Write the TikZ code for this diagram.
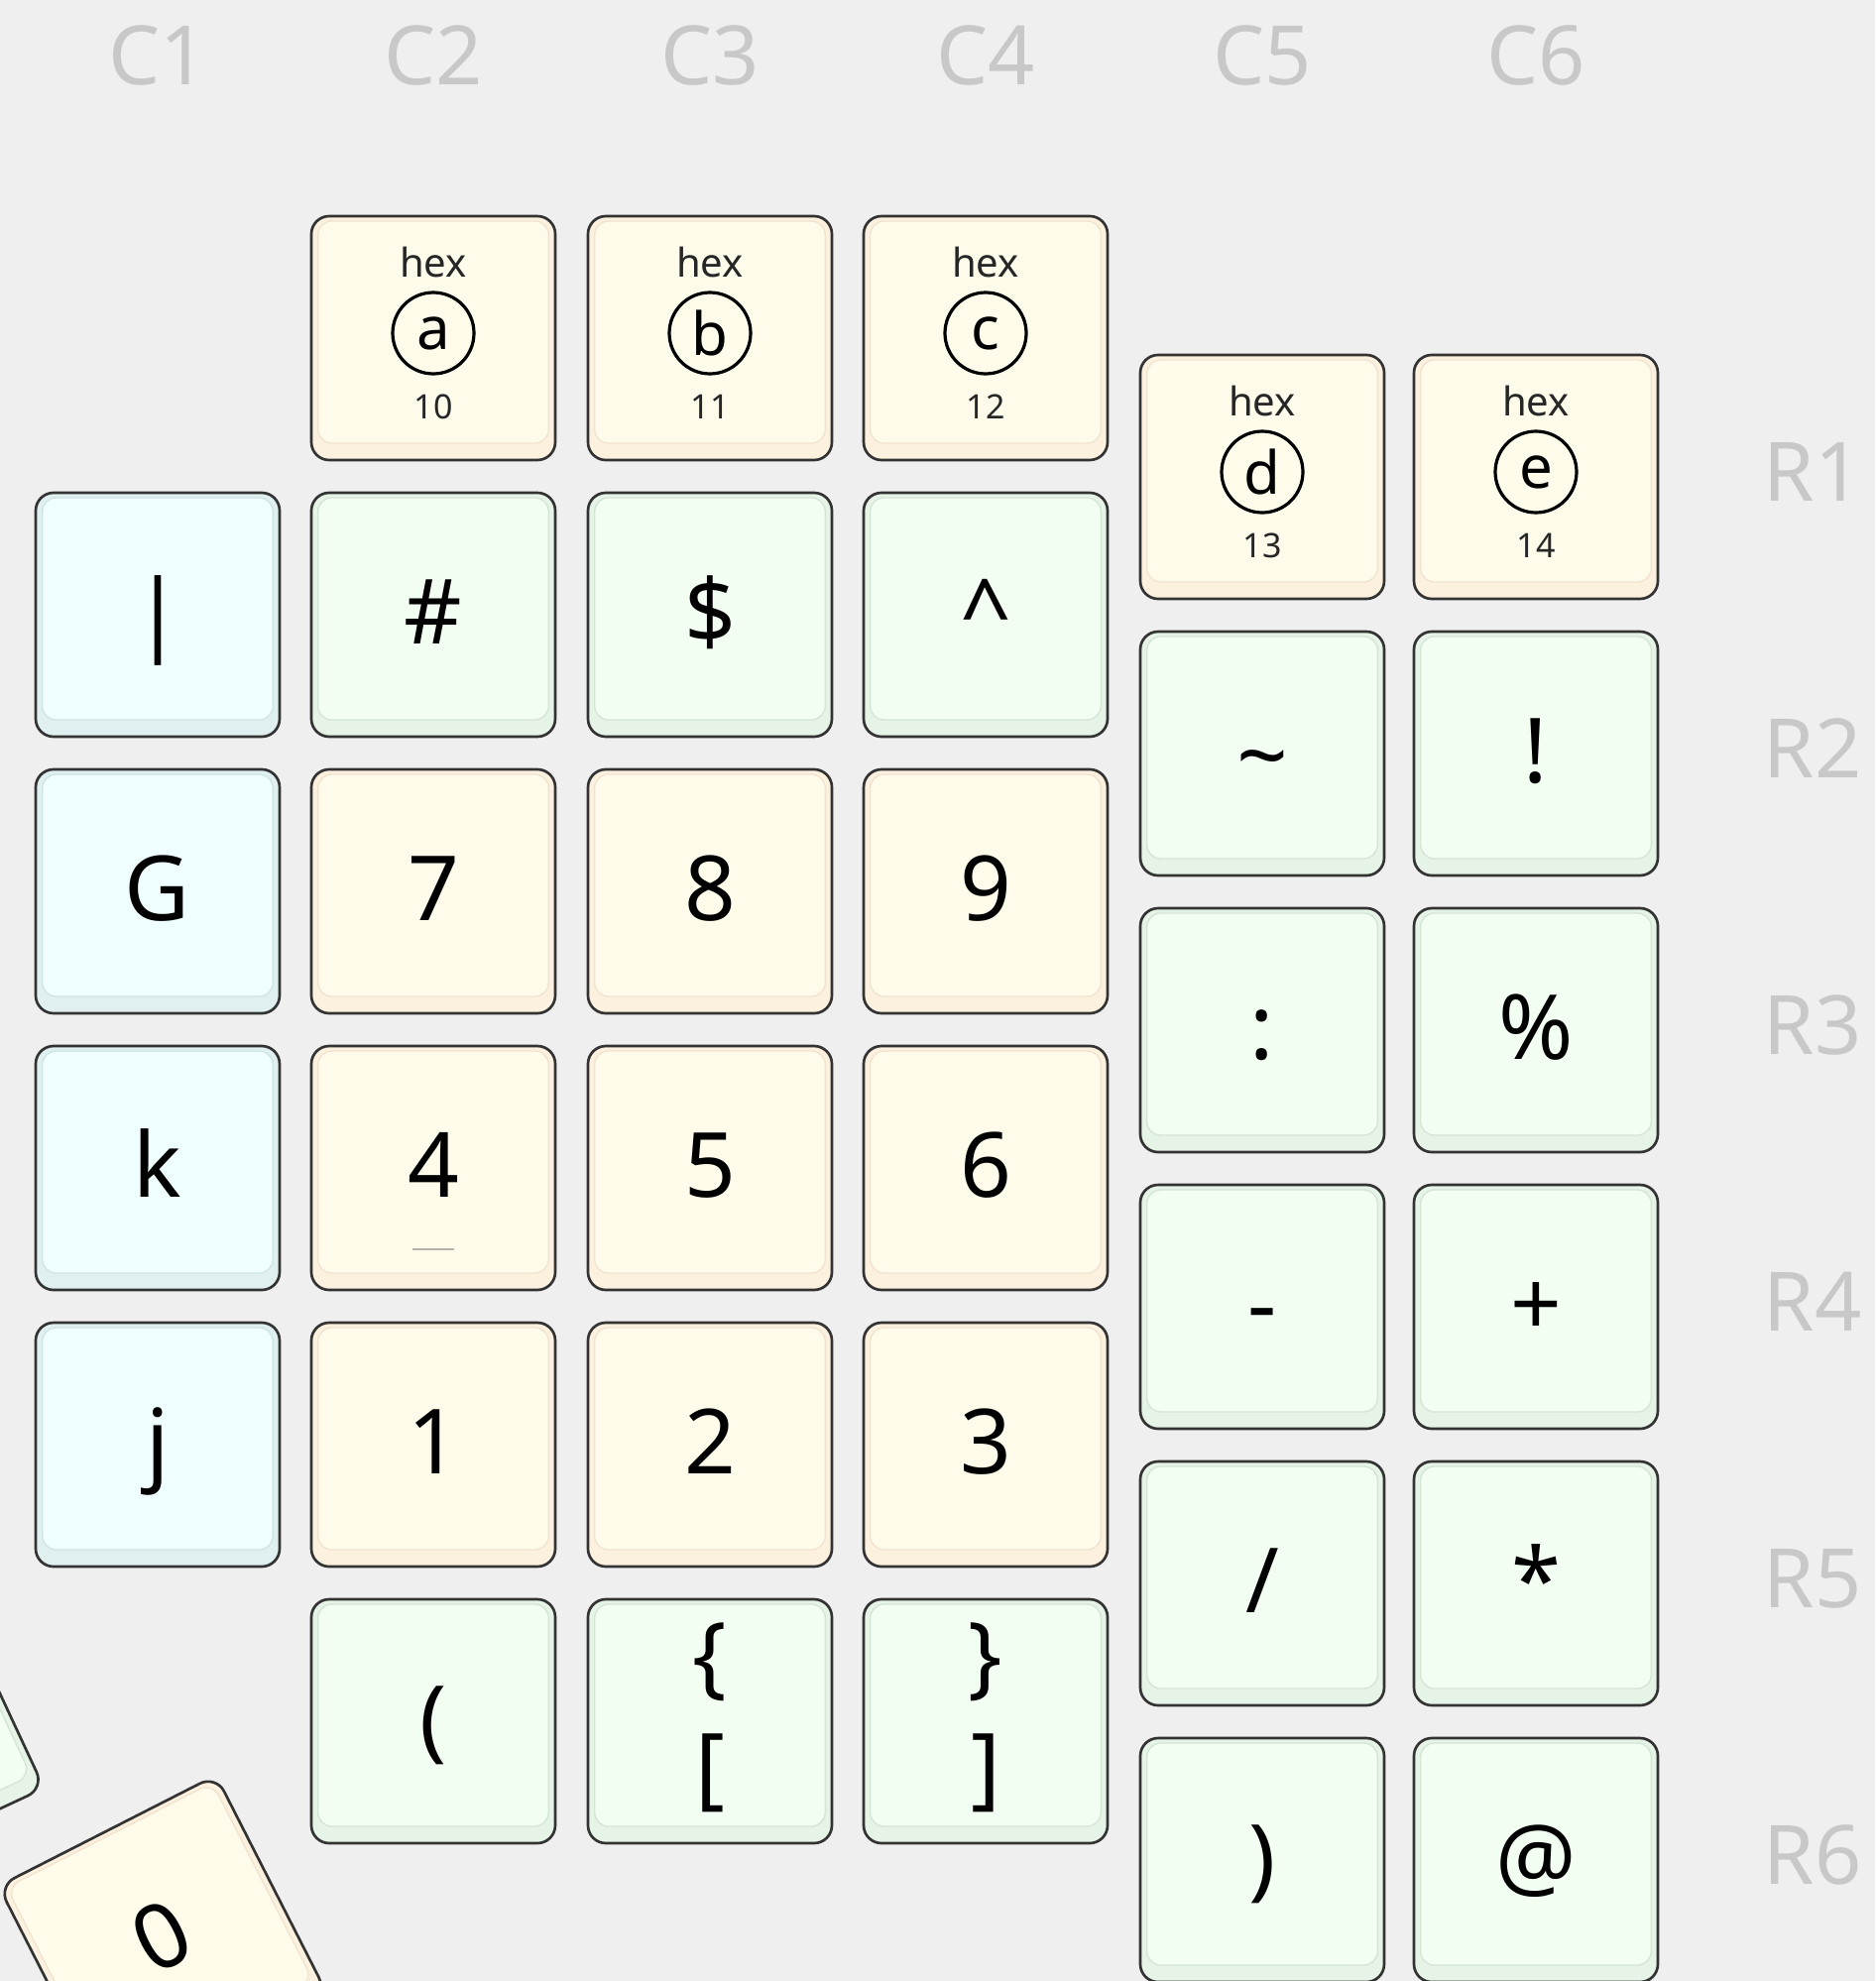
\documentclass[tikz,border=0pt]{standalone}
\usepackage{fontspec}
\setmainfont{Noto Sans}
\usepackage{xcolor}
\usetikzlibrary{calc}

\definecolor{bgcol}{HTML}{EFEFEF}
\definecolor{axisgray}{HTML}{C8C8C8}
\definecolor{keyline}{HTML}{333333}
\definecolor{homegray}{HTML}{B4B4AA}
\definecolor{creamface}{HTML}{FEFBEA}
\definecolor{creamband}{HTML}{FCF0DF}
\definecolor{creamedge}{HTML}{F0E4D0}
\definecolor{mintface}{HTML}{F3FEF3}
\definecolor{mintband}{HTML}{E6F3E7}
\definecolor{mintedge}{HTML}{D4E5D7}
\definecolor{cyanface}{HTML}{EFFEFE}
\definecolor{cyanband}{HTML}{E0F0F0}
\definecolor{cyanedge}{HTML}{D0E4E4}

\tikzset{
  keycap/.style={draw=keyline, line width=2pt, rounded corners=13.5pt, minimum width=184.5pt, minimum height=184.5pt, inner sep=0pt, fill=#1band},
  keyface/.style={draw=#1edge, line width=1pt, rounded corners=10.5pt, minimum width=174.5pt, minimum height=168pt, inner sep=0pt, fill=#1face},
  keylegend/.style={anchor=base, inner sep=0pt, text=black, align=center, font=\fontsize{68}{84}\selectfont},
  hexlabel/.style={anchor=base, inner sep=0pt, text=black!85, font=\fontsize{30}{36}\selectfont},
  hexnum/.style={anchor=base, inner sep=0pt, text=black!85, font=\fontsize{25.5}{30}\selectfont},
  hexcirc/.style={circle, draw=black, line width=2.4pt, minimum size=61.5pt, inner sep=0pt, text=black, font=\fontsize{45}{50}\selectfont},
  axislabel/.style={anchor=base, inner sep=0pt, text=axisgray, font=\fontsize{62}{70}\selectfont},
  homing/.style={draw=homegray, line width=2.2pt}
}

\begin{document}
\begin{tikzpicture}[x=0.75pt,y=0.75pt,yscale=-1,xscale=1]
\useasboundingbox (0,0) rectangle (1891,1998);
\fill[bgcol] (0,0) rectangle (1891,1998);
\clip (0,0) rectangle (1891,1998);

% Column labels
\node[axislabel] (lc1) at (159,86) {C1};
\node[axislabel] (lc2) at (437,86) {C2};
\node[axislabel] (lc3) at (716,86) {C3};
\node[axislabel] (lc4) at (994,86) {C4};
\node[axislabel] (lc5) at (1273,86) {C5};
\node[axislabel] (lc6) at (1549,86) {C6};
% Row labels
\node[axislabel] (lr1) at (1828,505) {R1};
\node[axislabel] (lr2) at (1828,784) {R2};
\node[axislabel] (lr3) at (1828,1063) {R3};
\node[axislabel] (lr4) at (1828,1342) {R4};
\node[axislabel] (lr5) at (1828,1621) {R5};
\node[axislabel] (lr6) at (1828,1900) {R6};

%Column C1
\node[keycap=cyan] (c1r2) at (159,620) {};
\node[keyface=cyan] (c1r2f) at ($(c1r2.center)+(0,-6)$) {};
\node[keylegend] (c1r2t) at ($(c1r2.center)+(0,29)$) {|};
\node[keycap=cyan] (c1r3) at (159,899) {};
\node[keyface=cyan] (c1r3f) at ($(c1r3.center)+(0,-6)$) {};
\node[keylegend] (c1r3t) at ($(c1r3.center)+(0,29)$) {G};
\node[keycap=cyan] (c1r4) at (159,1178) {};
\node[keyface=cyan] (c1r4f) at ($(c1r4.center)+(0,-6)$) {};
\node[keylegend] (c1r4t) at ($(c1r4.center)+(0,29)$) {k};
\node[keycap=cyan] (c1r5) at (159,1457) {};
\node[keyface=cyan] (c1r5f) at ($(c1r5.center)+(0,-6)$) {};
\node[keylegend] (c1r5t) at ($(c1r5.center)+(0,29)$) {j};

%Column C2
\node[keycap=cream] (c2r1) at (437,341) {};
\node[keyface=cream] (c2r1f) at ($(c2r1.center)+(0,-6)$) {};
\node[hexlabel] (c2r1h) at ($(c2r1.center)+(0,-62)$) {hex};
\node[hexcirc] (c2r1c) at ($(c2r1.center)+(0,-5)$) {a};
\node[hexnum] (c2r1n) at ($(c2r1.center)+(0,81)$) {10};
\node[keycap=mint] (c2r2) at (437,620) {};
\node[keyface=mint] (c2r2f) at ($(c2r2.center)+(0,-6)$) {};
\node[keylegend] (c2r2t) at ($(c2r2.center)+(0,29)$) {\#};
\node[keycap=cream] (c2r3) at (437,899) {};
\node[keyface=cream] (c2r3f) at ($(c2r3.center)+(0,-6)$) {};
\node[keylegend] (c2r3t) at ($(c2r3.center)+(0,29)$) {7};
\node[keycap=cream] (c2r4) at (437,1178) {};
\node[keyface=cream] (c2r4f) at ($(c2r4.center)+(0,-6)$) {};
\node[keylegend] (c2r4t) at ($(c2r4.center)+(0,29)$) {4};
\draw[homing] ($(c2r4.center)+(-21,82)$) -- ($(c2r4.center)+(21,82)$);
\node[keycap=cream] (c2r5) at (437,1457) {};
\node[keyface=cream] (c2r5f) at ($(c2r5.center)+(0,-6)$) {};
\node[keylegend] (c2r5t) at ($(c2r5.center)+(0,29)$) {1};
\node[keycap=mint] (c2r6) at (437,1736) {};
\node[keyface=mint] (c2r6f) at ($(c2r6.center)+(0,-6)$) {};
\node[keylegend] (c2r6t) at ($(c2r6.center)+(0,29)$) {(};

%Column C3
\node[keycap=cream] (c3r1) at (716,341) {};
\node[keyface=cream] (c3r1f) at ($(c3r1.center)+(0,-6)$) {};
\node[hexlabel] (c3r1h) at ($(c3r1.center)+(0,-62)$) {hex};
\node[hexcirc] (c3r1c) at ($(c3r1.center)+(0,-5)$) {b};
\node[hexnum] (c3r1n) at ($(c3r1.center)+(0,81)$) {11};
\node[keycap=mint] (c3r2) at (716,620) {};
\node[keyface=mint] (c3r2f) at ($(c3r2.center)+(0,-6)$) {};
\node[keylegend] (c3r2t) at ($(c3r2.center)+(0,29)$) {\$};
\node[keycap=cream] (c3r3) at (716,899) {};
\node[keyface=cream] (c3r3f) at ($(c3r3.center)+(0,-6)$) {};
\node[keylegend] (c3r3t) at ($(c3r3.center)+(0,29)$) {8};
\node[keycap=cream] (c3r4) at (716,1178) {};
\node[keyface=cream] (c3r4f) at ($(c3r4.center)+(0,-6)$) {};
\node[keylegend] (c3r4t) at ($(c3r4.center)+(0,29)$) {5};
\node[keycap=cream] (c3r5) at (716,1457) {};
\node[keyface=cream] (c3r5f) at ($(c3r5.center)+(0,-6)$) {};
\node[keylegend] (c3r5t) at ($(c3r5.center)+(0,29)$) {2};
\node[keycap=mint] (c3r6) at (716,1736) {};
\node[keyface=mint] (c3r6f) at ($(c3r6.center)+(0,-6)$) {};
\node[keylegend, anchor=center] (c3r6t) at ($(c3r6.center)+(0,-4)$) {\{\\{}[};

%Column C4
\node[keycap=cream] (c4r1) at (994,341) {};
\node[keyface=cream] (c4r1f) at ($(c4r1.center)+(0,-6)$) {};
\node[hexlabel] (c4r1h) at ($(c4r1.center)+(0,-62)$) {hex};
\node[hexcirc] (c4r1c) at ($(c4r1.center)+(0,-5)$) {c};
\node[hexnum] (c4r1n) at ($(c4r1.center)+(0,81)$) {12};
\node[keycap=mint] (c4r2) at (994,620) {};
\node[keyface=mint] (c4r2f) at ($(c4r2.center)+(0,-6)$) {};
\node[keylegend] (c4r2t) at ($(c4r2.center)+(0,29)$) {\textasciicircum};
\node[keycap=cream] (c4r3) at (994,899) {};
\node[keyface=cream] (c4r3f) at ($(c4r3.center)+(0,-6)$) {};
\node[keylegend] (c4r3t) at ($(c4r3.center)+(0,29)$) {9};
\node[keycap=cream] (c4r4) at (994,1178) {};
\node[keyface=cream] (c4r4f) at ($(c4r4.center)+(0,-6)$) {};
\node[keylegend] (c4r4t) at ($(c4r4.center)+(0,29)$) {6};
\node[keycap=cream] (c4r5) at (994,1457) {};
\node[keyface=cream] (c4r5f) at ($(c4r5.center)+(0,-6)$) {};
\node[keylegend] (c4r5t) at ($(c4r5.center)+(0,29)$) {3};
\node[keycap=mint] (c4r6) at (994,1736) {};
\node[keyface=mint] (c4r6f) at ($(c4r6.center)+(0,-6)$) {};
\node[keylegend, anchor=center] (c4r6t) at ($(c4r6.center)+(0,-4)$) {\}\\{}]};

%Column C5
\node[keycap=cream] (c5r1) at (1273,481) {};
\node[keyface=cream] (c5r1f) at ($(c5r1.center)+(0,-6)$) {};
\node[hexlabel] (c5r1h) at ($(c5r1.center)+(0,-62)$) {hex};
\node[hexcirc] (c5r1c) at ($(c5r1.center)+(0,-5)$) {d};
\node[hexnum] (c5r1n) at ($(c5r1.center)+(0,81)$) {13};
\node[keycap=mint] (c5r2) at (1273,760) {};
\node[keyface=mint] (c5r2f) at ($(c5r2.center)+(0,-6)$) {};
\node[keylegend] (c5r2t) at ($(c5r2.center)+(0,34)$) {\textasciitilde};
\node[keycap=mint] (c5r3) at (1273,1039) {};
\node[keyface=mint] (c5r3f) at ($(c5r3.center)+(0,-6)$) {};
\node[keylegend] (c5r3t) at ($(c5r3.center)+(0,29)$) {:};
\node[keycap=mint] (c5r4) at (1273,1318) {};
\node[keyface=mint] (c5r4f) at ($(c5r4.center)+(0,-6)$) {};
\node[keylegend] (c5r4t) at ($(c5r4.center)+(0,29)$) {-};
\node[keycap=mint] (c5r5) at (1273,1597) {};
\node[keyface=mint] (c5r5f) at ($(c5r5.center)+(0,-6)$) {};
\node[keylegend] (c5r5t) at ($(c5r5.center)+(0,29)$) {/};
\node[keycap=mint] (c5r6) at (1273,1876) {};
\node[keyface=mint] (c5r6f) at ($(c5r6.center)+(0,-6)$) {};
\node[keylegend] (c5r6t) at ($(c5r6.center)+(0,29)$) {)};

%Column C6
\node[keycap=cream] (c6r1) at (1549,481) {};
\node[keyface=cream] (c6r1f) at ($(c6r1.center)+(0,-6)$) {};
\node[hexlabel] (c6r1h) at ($(c6r1.center)+(0,-62)$) {hex};
\node[hexcirc] (c6r1c) at ($(c6r1.center)+(0,-5)$) {e};
\node[hexnum] (c6r1n) at ($(c6r1.center)+(0,81)$) {14};
\node[keycap=mint] (c6r2) at (1549,760) {};
\node[keyface=mint] (c6r2f) at ($(c6r2.center)+(0,-6)$) {};
\node[keylegend] (c6r2t) at ($(c6r2.center)+(0,29)$) {!};
\node[keycap=mint] (c6r3) at (1549,1039) {};
\node[keyface=mint] (c6r3f) at ($(c6r3.center)+(0,-6)$) {};
\node[keylegend] (c6r3t) at ($(c6r3.center)+(0,29)$) {\%};
\node[keycap=mint] (c6r4) at (1549,1318) {};
\node[keyface=mint] (c6r4f) at ($(c6r4.center)+(0,-6)$) {};
\node[keylegend] (c6r4t) at ($(c6r4.center)+(0,29)$) {+};
\node[keycap=mint] (c6r5) at (1549,1597) {};
\node[keyface=mint] (c6r5f) at ($(c6r5.center)+(0,-6)$) {};
\node[keylegend] (c6r5t) at ($(c6r5.center)+(0,29)$) {*};
\node[keycap=mint] (c6r6) at (1549,1876) {};
\node[keyface=mint] (c6r6f) at ($(c6r6.center)+(0,-6)$) {};
\node[keylegend] (c6r6t) at ($(c6r6.center)+(0,29)$) {@};

%Thumb keys
\node[keycap=mint, rotate=25] (t1) at (-119,1744) {};
\node[keyface=mint, rotate=25] (t1f) at ($(t1.center)!4.5pt!(t1.north)$) {};
\node[keycap=cream, rotate=27] (t2) at (164,1956) {};
\node[keyface=cream, rotate=27] (t2f) at ($(t2.center)!4.5pt!(t2.north)$) {};
\node[keylegend, rotate=27] (t2t) at ($(t2.center)!21.75pt!(t2.south)$) {0};

\end{tikzpicture}
\end{document}
